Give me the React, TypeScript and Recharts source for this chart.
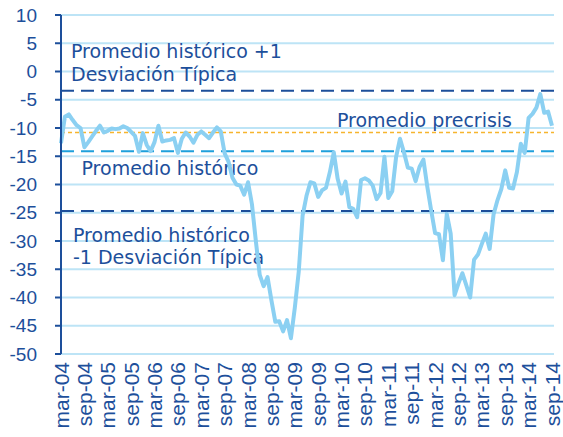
import React from 'react';
import { LineChart, Line, XAxis, YAxis, CartesianGrid, ReferenceLine } from 'recharts';

// monthly series, mar-04 .. sep-14
const MONTHS = ['ene', 'feb', 'mar', 'abr', 'may', 'jun', 'jul', 'ago', 'sep', 'oct', 'nov', 'dic'];
const FIRST_YEAR = 2004;
const FIRST_MONTH = 2; // mar

const values = [
  -12.7, -8.0, -7.6, -8.6, -9.5, -10.0, -13.4, -12.5, -11.5, -10.5, -9.6, -10.8,
  -10.5, -10.1, -10.2, -10.1, -9.7, -10.0, -10.7, -11.4, -14.2, -10.9, -13.0, -14.1,
  -12.5, -9.6, -12.4, -12.2, -12.1, -11.8, -14.4, -11.9, -10.8, -11.5, -12.6, -11.2,
  -10.6, -11.2, -11.8, -10.8, -9.9, -10.6, -14.5, -16.0, -18.8, -20.0, -20.2, -21.8,
  -19.6, -23.5, -30.0, -36.0, -38.0, -36.4, -40.5, -44.3, -44.2, -46.0, -44.0, -47.2,
  -41.8, -35.5, -25.5, -22.0, -19.6, -19.8, -22.2, -21.0, -20.6, -17.8, -14.3, -19.0,
  -21.6, -19.5, -24.0, -24.3, -25.8, -19.2, -18.9, -19.3, -20.2, -22.6, -21.5, -15.1,
  -22.4, -21.2, -15.1, -11.9, -14.3, -17.0, -17.2, -19.4, -16.9, -15.6, -20.4, -24.6,
  -28.6, -28.8, -33.4, -25.2, -28.7, -39.6, -37.5, -35.7, -37.8, -40.0, -33.3, -32.4,
  -30.5, -28.7, -31.4, -25.3, -22.8, -20.8, -17.5, -20.6, -20.7, -17.8, -12.8, -14.4,
  -8.2, -7.5, -6.4, -4.0, -7.3, -7.1, -9.6,
];

const yTicks = [-50, -45, -40, -35, -30, -25, -20, -15, -10, -5, 0, 5, 10];

const histMean = -14.1;
const histPlusSd = -3.4;
const histMinusSd = -24.7;
const precrisisMean = -10.8;

const data = values.map((v, i) => {
  const m = FIRST_MONTH + i;
  const label = `${MONTHS[m % 12]}-${String((FIRST_YEAR + Math.floor(m / 12)) % 100).padStart(2, '0')}`;
  return { month: label, value: v };
});

const NAVY = '#1d4f9b';
const TEXT_FONT = '"DejaVu Sans", Verdana, sans-serif';

const XTick = (props: any) => {
  const { x, y, payload } = props;
  return (
    <text
      x={x}
      y={y}
      transform={`rotate(-90, ${x}, ${y})`}
      textAnchor="end"
      dy="0.36em"
      fill={NAVY}
      fontSize={21}
      fontFamily='"Liberation Sans", Arial, sans-serif'
    >
      {payload.value}
    </text>
  );
};

// text placed relative to its reference line
const Note = (props: any) => {
  const { viewBox, lines, dx, dy, anchor } = props;
  if (!viewBox) return null;
  const x0 = anchor === 'end' ? viewBox.x + viewBox.width + dx : viewBox.x + dx;
  return (
    <text
      x={x0}
      y={viewBox.y + dy}
      textAnchor={anchor || 'start'}
      fill={NAVY}
      fontSize={19}
      fontFamily={TEXT_FONT}
    >
      {lines.map((l: string, i: number) => (
        <tspan key={i} x={x0} dy={i === 0 ? 0 : 22.5}>
          {l}
        </tspan>
      ))}
    </text>
  );
};

const App: React.FC = () => {
  return (
    <div style={{ position: 'absolute', left: 0, top: 0, background: '#fff' }}>
      <LineChart
        width={563}
        height={437}
        data={data}
        margin={{ top: 15, right: 9, left: 0, bottom: 0 }}
      >
        <CartesianGrid vertical={false} stroke="#bde4f6" strokeWidth={2} />
        <XAxis
          dataKey="month"
          interval={5}
          axisLine={false}
          tickLine={false}
          height={83}
          tick={<XTick />}
          padding={{ left: 0, right: 2 }}
        />
        <YAxis
          domain={[-50, 10]}
          ticks={yTicks}
          width={61}
          axisLine={{ stroke: NAVY, strokeWidth: 2 }}
          tickLine={{ stroke: NAVY, strokeWidth: 2 }}
          tickSize={6}
          tickMargin={18}
          tick={{ fill: NAVY, fontSize: 19, fontFamily: '"Liberation Sans", Arial, sans-serif' }}
        />
        <ReferenceLine
          y={histPlusSd}
          stroke={NAVY}
          strokeWidth={2}
          strokeDasharray="13 7"
          label={<Note lines={['Promedio histórico +1', 'Desviación Típica']} dx={10} dy={-32.5} />}
        />
        <ReferenceLine
          y={precrisisMean}
          stroke="#f6b52e"
          strokeWidth={1.5}
          strokeDasharray="4 3"
          label={<Note lines={['Promedio precrisis']} dx={-42} dy={-6} anchor="end" />}
        />
        <ReferenceLine
          y={histMean}
          stroke="#1ea0dc"
          strokeWidth={2}
          strokeDasharray="13 7"
          label={<Note lines={['Promedio histórico']} dx={20.5} dy={24} />}
        />
        <ReferenceLine
          y={histMinusSd}
          stroke={NAVY}
          strokeWidth={2}
          strokeDasharray="13 7"
          label={<Note lines={['Promedio histórico', '-1 Desviación Típica']} dx={12} dy={30.5} />}
        />
        <Line
          type="linear"
          dataKey="value"
          stroke="#8bd0f2"
          strokeWidth={4}
          dot={false}
          strokeLinejoin="round"
          isAnimationActive={false}
        />
      </LineChart>
    </div>
  );
};

export default App;
